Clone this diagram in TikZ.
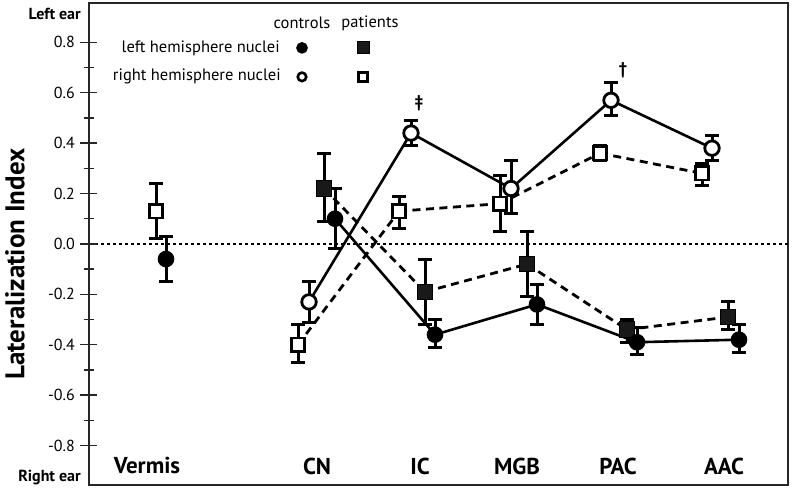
\documentclass[tikz,border=0pt]{standalone}
\usepackage{fontspec}
\setmainfont{PT Sans}
\usetikzlibrary{calc}

\begin{document}
\begin{tikzpicture}[x=1pt,y=252pt]
\tikzset{filledcirc/.style = {shape=circle,draw,fill=black,line width=1.6pt,minimum size=15pt,inner sep=0pt}}
\tikzset{opencirc/.style = {shape=circle,draw,fill=white,line width=2.8pt,minimum size=14.5pt,inner sep=0pt}}
\tikzset{filledsq/.style = {shape=rectangle,draw,fill=black!90,line width=1pt,minimum size=15.5pt,inner sep=0pt}}
\tikzset{opensq/.style = {shape=rectangle,draw,fill=white,line width=2.6pt,minimum size=13.5pt,inner sep=0pt}}
\tikzset{errbar/.style = {line width=3pt}}
\tikzset{trend/.style = {line width=2.6pt}}
\tikzset{ptrend/.style = {line width=2.8pt,dash pattern=on 8pt off 5.5pt}}
\tikzset{ticklbl/.style = {anchor=east,inner sep=0pt,font=\fontsize{16}{18}\selectfont}}
\tikzset{catlbl/.style = {inner sep=0pt,font=\bfseries\fontsize{23}{25}\selectfont}}
\tikzset{earlbl/.style = {anchor=east,inner sep=0pt,font=\bfseries\fontsize{16}{18}\selectfont}}
\tikzset{leglbl/.style = {inner sep=0pt,font=\fontsize{16.5}{18}\selectfont}}

\useasboundingbox (0,-0.976) rectangle (794,0.968);

% frame and zero line
\draw[line width=2pt,black!85] (89,-0.956) rectangle (788,0.956);
\draw[line width=1.3pt,dash pattern=on 3pt off 3pt] (89,0) -- (788,0);

% y axis ticks
\foreach \v/\t in {0.8/0.8, 0.6/0.6, 0.4/0.4, 0.2/0.2, 0/0.0, -0.2/-0.2, -0.4/-0.4, -0.6/-0.6, -0.8/-0.8}{
\draw[line width=1.5pt,black!85] (80,\v) -- (97,\v);
\node[ticklbl] (tick\t) at (75,\v) {\t};
}
\foreach \v in {0.7,0.5,0.3,0.1,-0.1,-0.3,-0.5,-0.7}
\draw[line width=1.5pt,black!85] (84,\v) -- (94,\v);

\node[earlbl] (leftear) at (81,0.913) {Left ear};
\node[earlbl] (rightear) at (81,-0.925) {Right ear};
\node[rotate=90,inner sep=0pt,font=\bfseries\fontsize{27}{28}\selectfont] (ylabel) at (15,-0.08) {Lateralization Index};

% region labels
\foreach \x/\name in {147/Vermis, 317/CN, 420/IC, 517/MGB, 618/PAC, 724/AAC}
\node[catlbl] (\name) at (\x,-0.881) {\name};

% legend
\node[leglbl] (controls) at (302,0.877) {controls};
\node[leglbl] (patients) at (370,0.877) {patients};
\node[leglbl,anchor=east] (lefthemi) at (280,0.778) {left hemisphere nuclei};
\node[leglbl,anchor=east] (righthemi) at (281,0.663) {right hemisphere nuclei};
\node[filledcirc,minimum size=10pt] (legFC) at (302,0.778) {};
\node[filledsq,minimum size=12pt] (legFS) at (363,0.778) {};
\node[opencirc,minimum size=8.5pt,line width=2.6pt] (legOC) at (302,0.663) {};
\node[opensq,minimum size=9pt,line width=2.6pt] (legOS) at (363,0.663) {};

% name/x/mean/low/high
\def\datapts{vOS/156/0.13/0.02/0.24, vFC/166/-0.06/-0.15/0.03,
cnOS/298/-0.40/-0.47/-0.32, cnOC/309/-0.23/-0.31/-0.15, cnFS/324/0.22/0.09/0.36, cnFC/335/0.10/-0.02/0.22,
icOS/399/0.13/0.06/0.19, icOC/411/0.44/0.39/0.49, icFS/425/-0.19/-0.32/-0.06, icFC/435/-0.36/-0.41/-0.30,
mgbOS/500/0.16/0.05/0.27, mgbOC/511/0.22/0.12/0.33, mgbFS/527/-0.08/-0.21/0.05, mgbFC/537/-0.24/-0.32/-0.16,
pacOS/600/0.36/0.33/0.39, pacOC/611/0.57/0.51/0.64, pacFS/627/-0.34/-0.39/-0.30, pacFC/637/-0.39/-0.44/-0.33,
aacOS/702/0.28/0.23/0.32, aacOC/712/0.38/0.33/0.43, aacFS/728/-0.29/-0.34/-0.23, aacFC/739/-0.38/-0.43/-0.32}

\foreach \name/\x/\v/\lo/\hi in \datapts
\coordinate (\name) at (\x,\v);

% controls solid, patients dashed
\foreach \from/\to in {cnOC/icOC, icOC/mgbOC, mgbOC/pacOC, pacOC/aacOC, cnFC/icFC, icFC/mgbFC, mgbFC/pacFC, pacFC/aacFC}
\draw[trend] (\from) -- (\to);
\foreach \from/\to in {cnOS/icOS, icOS/mgbOS, mgbOS/pacOS, pacOS/aacOS, cnFS/icFS, icFS/mgbFS, mgbFS/pacFS, pacFS/aacFS}
\draw[ptrend] (\from) -- (\to);

\foreach \name/\x/\v/\lo/\hi in \datapts
\draw[errbar] (\x-7,\lo) -- (\x+7,\lo) (\x,\lo) -- (\x,\hi) (\x-7,\hi) -- (\x+7,\hi);

\foreach \name in {vOS, cnOS, icOS, mgbOS, pacOS, aacOS}
\node[opensq] (\name-m) at (\name) {};
\foreach \name in {cnFS, icFS, mgbFS, pacFS, aacFS}
\node[filledsq] (\name-m) at (\name) {};
\foreach \name in {cnOC, icOC, mgbOC, pacOC, aacOC}
\node[opencirc] (\name-m) at (\name) {};
\foreach \name in {vFC, cnFC, icFC, mgbFC, pacFC, aacFC}
\node[filledcirc] (\name-m) at (\name) {};

% significance marks
\node[leglbl,font=\bfseries\fontsize{17}{18}\selectfont] (icmark) at (419,0.56) {‡};
\node[leglbl,font=\bfseries\fontsize{17}{18}\selectfont] (pacmark) at (623,0.69) {†};

\end{tikzpicture}
\end{document}
